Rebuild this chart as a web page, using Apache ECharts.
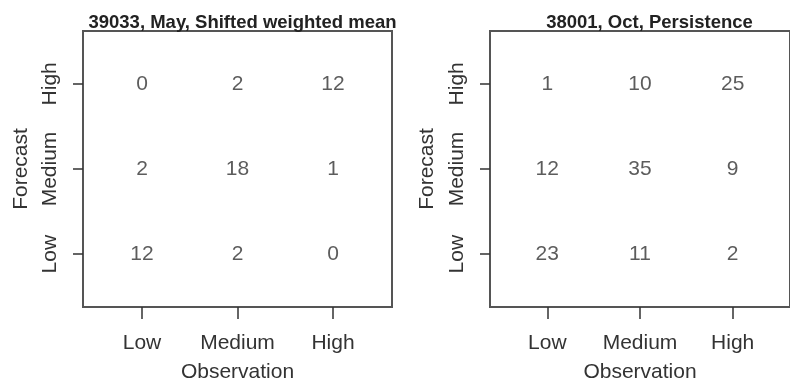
<!DOCTYPE html>
<html>
<head>
<meta charset="utf-8">
<script src="https://cdn.jsdelivr.net/npm/echarts@6/dist/echarts.min.js"></script>
<style>
html,body{margin:0;padding:0;background:#fff;}
#chart{width:790px;height:388px;}
</style>
</head>
<body>
<div id="chart"></div>
<script>
var categories = ['Low', 'Medium', 'High'];
var titles = ['39033, May, Shifted weighted mean', '38001, Oct, Persistence'];
var xAxisName = 'Observation';
var yAxisName = 'Forecast';
// rows = forecast (Low, Medium, High); columns = observation (Low, Medium, High)
var leftLow = [12, 2, 0];
var leftMedium = [2, 18, 1];
var leftHigh = [0, 2, 12];
var rightLow = [23, 11, 2];
var rightMedium = [12, 35, 9];
var rightHigh = [1, 10, 25];

function cells(rows) {
  var out = [];
  rows.forEach(function (row, r) {
    row.forEach(function (v, c) { out.push([c + 1, r + 1, v]); });
  });
  return out;
}
var panels = [cells([leftLow, leftMedium, leftHigh]), cells([rightLow, rightMedium, rightHigh])];

var FONT = 'Liberation Sans, Arial, sans-serif';
var TXT = '#333';
var LINE = '#555';
var gridLeft = [83, 490];
var yNameGap = [51, 52];
var tickVals = [1, 2, 3];

var option = {
  animation: false,
  backgroundColor: '#fff',
  title: titles.map(function (t, i) {
    return {
      text: t, left: gridLeft[i] + 154.5, top: 8, textAlign: 'center',
      textStyle: { fontFamily: FONT, fontSize: 18.5, fontWeight: 'bold', color: '#222' }
    };
  }),
  grid: gridLeft.map(function (l) {
    return { left: l, top: 31, width: 309, height: 277, show: true, borderColor: LINE, borderWidth: 2, backgroundColor: 'transparent' };
  }),
  xAxis: gridLeft.map(function (l, i) {
    return {
      type: 'value', gridIndex: i, min: 0.382, max: 3.618,
      name: xAxisName, nameLocation: 'middle', nameGap: 55,
      nameTextStyle: { fontFamily: FONT, fontSize: 21, color: TXT },
      axisLine: { show: true, lineStyle: { color: LINE, width: 2 } },
      axisTick: { show: true, customValues: tickVals, length: 12, lineStyle: { color: TXT, width: 1.5 } },
      axisLabel: { customValues: tickVals, margin: 26, fontFamily: FONT, fontSize: 21, color: TXT,
        formatter: function (v) { return categories[Math.round(v) - 1]; } },
      splitLine: { show: false }
    };
  }),
  yAxis: gridLeft.map(function (l, i) {
    return {
      type: 'value', gridIndex: i, min: 0.38, max: 3.62,
      name: yAxisName, nameLocation: 'middle', nameGap: yNameGap[i], nameRotate: 90,
      nameTextStyle: { fontFamily: FONT, fontSize: 21, color: TXT },
      axisLine: { show: true, lineStyle: { color: LINE, width: 2 } },
      axisTick: { show: true, customValues: tickVals, length: 10, lineStyle: { color: TXT, width: 1.5 } },
      axisLabel: { customValues: tickVals, rotate: 90, margin: 22, fontFamily: FONT, fontSize: 21, color: TXT,
        formatter: function (v) { return categories[Math.round(v) - 1]; } },
      splitLine: { show: false }
    };
  }),
  series: panels.map(function (d, i) {
    return {
      type: 'scatter', xAxisIndex: i, yAxisIndex: i, data: d,
      symbolSize: 1, itemStyle: { color: 'rgba(0,0,0,0)' },
      label: { show: true, position: 'inside', fontFamily: FONT, fontSize: 21, color: TXT,
        formatter: function (p) { return String(p.value[2]); } }
    };
  })
};
var chart = echarts.init(document.getElementById('chart'), null, { renderer: 'canvas' });
chart.setOption(option);
</script>
</body>
</html>
